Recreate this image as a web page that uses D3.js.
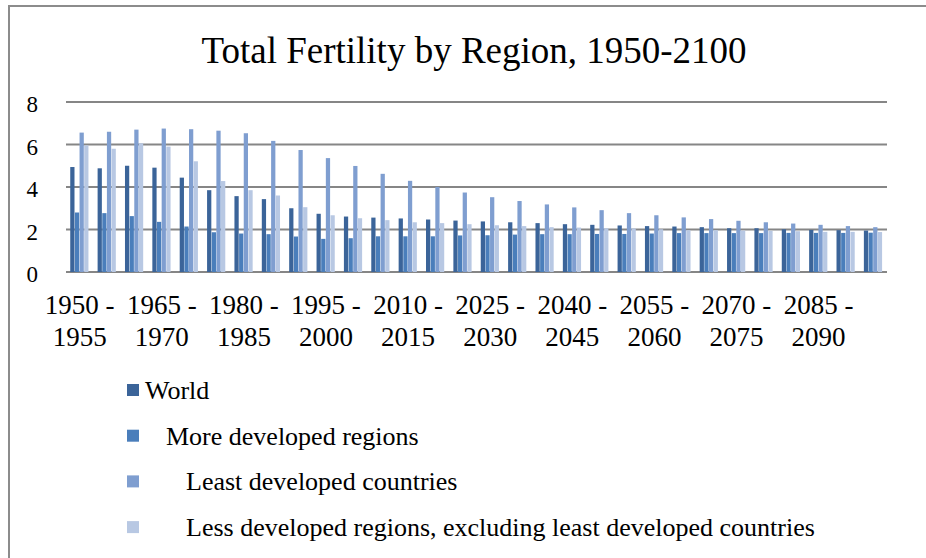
<!DOCTYPE html>
<html>
<head>
<meta charset="utf-8">
<script src="https://cdn.jsdelivr.net/npm/d3@7"></script>
<style>
  html, body { margin: 0; padding: 0; background: #fff; }
  svg { display: block; }
</style>
</head>
<body>
<svg id="chart" width="926" height="558"></svg>
<script>
const periods = ["1950 - 1955","1955 - 1960","1960 - 1965","1965 - 1970","1970 - 1975","1975 - 1980",
  "1980 - 1985","1985 - 1990","1990 - 1995","1995 - 2000","2000 - 2005","2005 - 2010",
  "2010 - 2015","2015 - 2020","2020 - 2025","2025 - 2030","2030 - 2035","2035 - 2040",
  "2040 - 2045","2045 - 2050","2050 - 2055","2055 - 2060","2060 - 2065","2065 - 2070",
  "2070 - 2075","2075 - 2080","2080 - 2085","2085 - 2090","2090 - 2095","2095 - 2100"];
const seriesNames = ["World", "More developed regions", "Least developed countries",
  "Less developed regions, excluding least developed countries"];
const world = [4.94,4.88,5.00,4.91,4.44,3.85,3.57,3.43,3.00,2.74,2.61,2.56,2.52,2.47,2.42,
  2.38,2.34,2.30,2.25,2.22,2.19,2.16,2.14,2.11,2.06,2.06,2.01,1.98,1.97,1.95];
const moreDeveloped = [2.80,2.77,2.63,2.36,2.14,1.87,1.81,1.78,1.67,1.56,1.59,1.68,1.68,1.68,1.72,
  1.73,1.76,1.78,1.78,1.79,1.79,1.81,1.83,1.83,1.83,1.83,1.84,1.84,1.84,1.85];
const leastDeveloped = [6.56,6.60,6.70,6.75,6.72,6.65,6.53,6.17,5.74,5.36,4.99,4.62,4.29,4.00,3.74,
  3.52,3.34,3.18,3.04,2.91,2.77,2.67,2.57,2.49,2.41,2.34,2.28,2.22,2.16,2.11];
const lessDevExLDC = [5.96,5.80,6.06,5.90,5.21,4.28,3.85,3.60,3.05,2.67,2.53,2.44,2.34,2.30,2.25,
  2.20,2.16,2.11,2.09,2.06,2.05,2.01,1.97,1.97,1.95,1.94,1.92,1.89,1.89,1.88];
const yTicks = [0, 2, 4, 6, 8];
const titleText = "Total Fertility by Region, 1950-2100";

const seriesValues = [world, moreDeveloped, leastDeveloped, lessDevExLDC];
const colors = ["#3B6499", "#4A7EBB", "#7F9ED0", "#B8C8E3"];

const svg = d3.select("#chart");
const serif = "Liberation Serif, Tinos, Times New Roman, Times, DejaVu Serif, serif";

// outer border
svg.append("rect").attr("x", 9).attr("y", 6).attr("width", 940).attr("height", 600)
  .attr("fill", "none").attr("stroke", "#8c8c8c").attr("stroke-width", 2);

// title
svg.append("text").attr("x", 474).attr("y", 63).attr("text-anchor", "middle")
  .style("font-family", serif).attr("font-size", 37).attr("fill", "#000").text(titleText);

const plot = { left: 66, right: 887, top: 102, bottom: 272 };

const x0 = d3.scaleBand().domain(periods).range([plot.left, plot.right]).padding(0);
const bw = x0.bandwidth();
const x1 = d3.scaleBand().domain(d3.range(seriesNames.length))
  .range([bw * 0.155, bw * 0.835]).padding(0);
const y = d3.scaleLinear().domain([0, 8]).range([plot.bottom, plot.top]);

// gridlines
const grid = svg.append("g");
grid.selectAll("line").data(yTicks).join("line")
  .attr("x1", plot.left).attr("x2", plot.right)
  .attr("y1", d => y(d)).attr("y2", d => y(d))
  .attr("stroke", "#868686").attr("stroke-width", 2);

// y axis labels
const yAxis = d3.axisLeft(y).tickValues(yTicks).tickSize(0).tickPadding(0).tickFormat(d3.format("d"));
const yg = svg.append("g").attr("transform", `translate(38,0)`).call(yAxis);
yg.select(".domain").remove();
yg.selectAll("text").style("font-family", serif).attr("font-size", 23).attr("fill", "#000")
  .attr("dy", "0.42em").attr("text-anchor", "end");

// bars
const groups = svg.append("g").selectAll("g").data(periods).join("g")
  .attr("transform", d => `translate(${x0(d)},0)`);
groups.selectAll("rect").data((d, i) => seriesValues.map((s, k) => ({ k, v: s[i] })))
  .join("rect")
  .attr("x", d => x1(d.k))
  .attr("width", x1.bandwidth() - 0.4)
  .attr("y", d => y(d.v))
  .attr("height", d => y(0) - y(d.v))
  .attr("fill", d => colors[d.k]);

// x axis labels (every 3rd category)
const xAxis = d3.axisBottom(x0).tickValues(periods.filter((p, i) => i % 3 === 0)).tickSize(0).tickFormat("");
const xg = svg.append("g").attr("transform", `translate(0,${plot.bottom})`).call(xAxis);
xg.select(".domain").remove();
xg.selectAll(".tick").each(function(d) {
  const parts = d.split(" - ");
  const t = d3.select(this).append("text").attr("text-anchor", "middle")
    .style("font-family", serif).attr("font-size", 27).attr("fill", "#000");
  t.append("tspan").attr("x", 0).attr("y", 42).text(parts[0] + " -");
  t.append("tspan").attr("x", 0).attr("y", 74).text(parts[1]);
});

// legend
const legendIndent = [0, 21, 41, 41];
const legend = svg.append("g");
const li = legend.selectAll("g").data(seriesNames).join("g")
  .attr("transform", (d, i) => `translate(127,${391 + i * 45.7})`);
li.append("rect").attr("x", 0).attr("y", -7).attr("width", 12).attr("height", 12)
  .attr("fill", (d, i) => colors[i]);
li.append("text").attr("x", (d, i) => 18 + legendIndent[i]).attr("y", 8)
  .style("font-family", serif).attr("font-size", 26).attr("fill", "#000").text(d => d);
</script>
</body>
</html>
